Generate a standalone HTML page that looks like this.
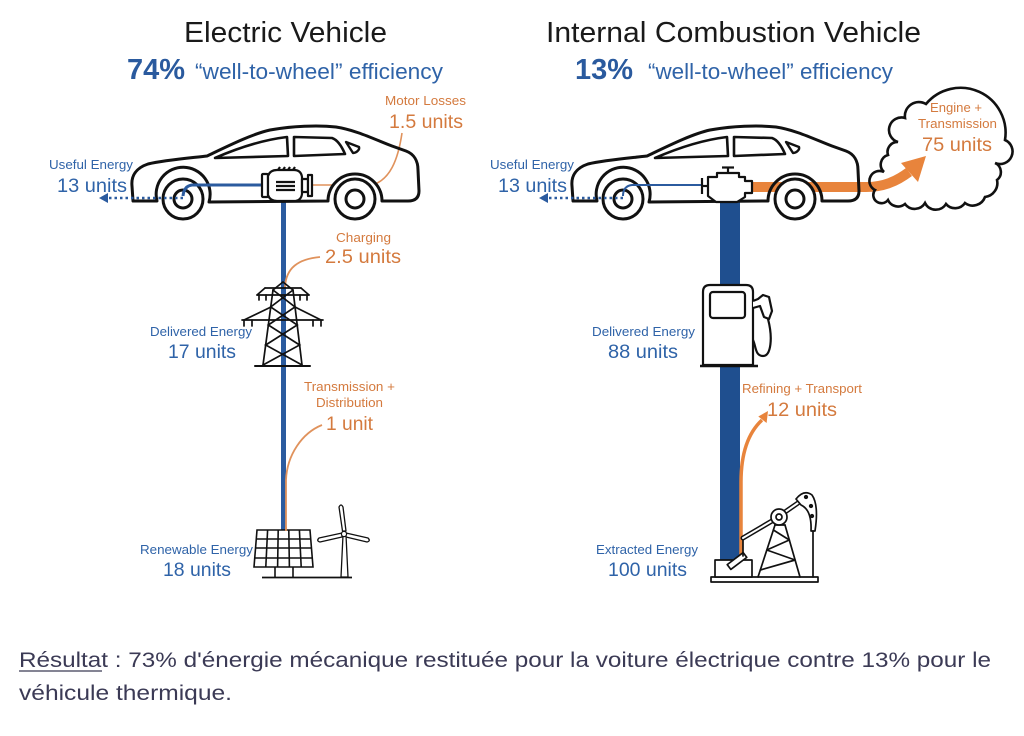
<!DOCTYPE html>
<html><head><meta charset="utf-8"><style>
html,body{margin:0;padding:0;background:#fff;}
svg{display:block;}
text{font-family:"Liberation Sans",Arial,sans-serif;}
</style></head><body>
<svg width="1024" height="736" viewBox="0 0 1024 736" xmlns="http://www.w3.org/2000/svg">
<rect width="1024" height="736" fill="#fff"/>

<!-- Titles -->
<text x="184" y="42" font-size="29" fill="#1a1a1a" textLength="203" lengthAdjust="spacingAndGlyphs">Electric Vehicle</text>
<text x="546" y="42" font-size="29" fill="#1a1a1a" textLength="375" lengthAdjust="spacingAndGlyphs">Internal Combustion Vehicle</text>
<text x="127" y="79" font-size="29" font-weight="bold" fill="#2a5a9e" textLength="58" lengthAdjust="spacingAndGlyphs">74%</text>
<text x="195" y="79" font-size="22.5" fill="#2f63a8" textLength="248" lengthAdjust="spacingAndGlyphs">“well-to-wheel” efficiency</text>
<text x="575" y="79" font-size="29" font-weight="bold" fill="#2a5a9e" textLength="58" lengthAdjust="spacingAndGlyphs">13%</text>
<text x="648" y="79" font-size="22.5" fill="#2f63a8" textLength="245" lengthAdjust="spacingAndGlyphs">“well-to-wheel” efficiency</text>

<!-- ============ LEFT: ELECTRIC ============ -->
<line x1="283.5" y1="200" x2="283.5" y2="531" stroke="#2b5b9f" stroke-width="5"/>
<path d="M312,185 L372,185 C390,180 398,160 402,133" fill="none" stroke="#e0925c" stroke-width="1.6"/>
<path d="M285,287 C286,268 298,259 320,257" fill="none" stroke="#e0925c" stroke-width="1.8"/>
<path d="M286,530 L286,480 C287,455 302,433 322,425" fill="none" stroke="#e0925c" stroke-width="1.8"/>

<g fill="none" stroke="#111" stroke-width="3" stroke-linejoin="round" stroke-linecap="round">
  <circle cx="183" cy="199" r="26" fill="#fff" stroke="none"/>
  <circle cx="355" cy="199" r="26" fill="#fff" stroke="none"/>
  <path d="M133,201 L132,186 C131,176 136,168 148,164 C165,160 190,158 207,156 C228,146 252,134 270,130 C292,126 318,125 336,127 C356,130 376,140 392,146 L406,151 C414,154 418,161 418,170 L419,191 C419,198 415,201 408,201 L382,201 A27,27 0 1 0 328,201 L209,202 A27,27 0 1 0 157,201 Z"/>
  <path d="M215,158 C238,148 262,140 287,137 L288,156 Z" stroke-width="2.6"/>
  <path d="M294,137 L332,138 C338,140 342,147 345,154 L294,156 Z" stroke-width="2.6"/>
  <path d="M346,142 L359,147 C360,150 356,153 353,153 Z" stroke-width="2.4"/>
  <circle cx="183" cy="199" r="20" fill="#fff"/>
  <circle cx="183" cy="199" r="9"/>
  <circle cx="355" cy="199" r="20" fill="#fff"/>
  <circle cx="355" cy="199" r="9"/>
</g>

<path d="M262,185 L192,185 Q184,186 183,196" fill="none" stroke="#2b5b9f" stroke-width="3"/>
<line x1="183" y1="198" x2="107" y2="198" stroke="#2b5b9f" stroke-width="2.6" stroke-dasharray="2.5 3"/>
<polygon points="99,198 108,193 108,203" fill="#2b5b9f"/>

<g fill="#fff" stroke="#111" stroke-width="2.2" stroke-linejoin="round">
  <rect x="262" y="174" width="6" height="23" rx="1"/>
  <path d="M268,176 Q270,170 277,170 L294,170 Q301,170 302,177 L302,194 Q301,201 294,201 L277,201 Q270,201 268,195 Z"/>
  <rect x="302" y="179" width="6" height="13"/>
  <rect x="308" y="175" width="4" height="21"/>
  <line x1="276" y1="182" x2="295" y2="182"/>
  <line x1="276" y1="186" x2="295" y2="186"/>
  <line x1="276" y1="190" x2="295" y2="190"/>
  <path d="M278,170 l2,-3 M283,170 l2,-3 M288,170 l2,-3 M293,170 l2,-3" fill="none"/>
</g>

<g fill="none" stroke="#111" stroke-width="1.7" stroke-linecap="round">
  <line x1="273" y1="290" x2="263" y2="365"/>
  <line x1="293" y1="290" x2="302" y2="365"/>
  <polyline points="273,290 295,307 268.3,325 299.6,345 263,365"/>
  <polyline points="293,290 270.7,307 297.2,325 265.7,345 302,365"/>
  <line x1="273" y1="290" x2="283" y2="282"/>
  <line x1="293" y1="290" x2="283" y2="282"/>
  <line x1="265" y1="288" x2="301" y2="288"/>
  <line x1="257" y1="295" x2="309" y2="295"/>
  <line x1="257" y1="295" x2="265" y2="288"/>
  <line x1="309" y1="295" x2="301" y2="288"/>
  <path d="M259,295 v5 M266,295 v5 M300,295 v5 M307,295 v5"/>
  <line x1="242" y1="320" x2="323" y2="320"/>
  <line x1="244" y1="320" x2="271" y2="307"/>
  <line x1="321" y1="320" x2="295" y2="307"/>
  <path d="M244,320 v6 M252,320 v6 M313,320 v6 M321,320 v6"/>
  <line x1="255" y1="366" x2="310" y2="366" stroke-width="2"/>
</g>

<g fill="none" stroke="#111" stroke-width="1.6">
  <polygon points="257,530 310,530 313,567 254,567" fill="#fff"/>
  <line x1="267.6" y1="530" x2="265.8" y2="567"/>
  <line x1="278.2" y1="530" x2="277.6" y2="567"/>
  <line x1="288.8" y1="530" x2="289.4" y2="567"/>
  <line x1="299.4" y1="530" x2="301.2" y2="567"/>
  <line x1="256.3" y1="539" x2="310.7" y2="539"/>
  <line x1="255.6" y1="548" x2="311.4" y2="548"/>
  <line x1="254.8" y1="558" x2="312.2" y2="558"/>
  <line x1="275" y1="567" x2="275" y2="577"/>
  <line x1="293" y1="567" x2="293" y2="577"/>
  <line x1="262" y1="577.5" x2="352" y2="577.5" stroke-width="1.8"/>
</g>
<line x1="286" y1="527" x2="286" y2="531" stroke="#e0925c" stroke-width="1.8"/>
<g fill="#fff" stroke="#111" stroke-width="1.3" stroke-linejoin="round">
  <polygon points="343,535 346,535 348,577 341,577"/>
  <path d="M342.5,531 L339,507 Q341,503 343,507 L346,531 Z"/>
  <path d="M342,533 L319,538 Q316,541 320,542 L342,537 Z"/>
  <path d="M346,533 L368,538 Q371,541 367,542 L346,537 Z"/>
  <circle cx="344" cy="534" r="2.6"/>
</g>

<g font-size="13" fill="#d47a3e">
  <text x="385" y="105" textLength="81" lengthAdjust="spacingAndGlyphs">Motor Losses</text>
  <text x="336" y="242" textLength="55" lengthAdjust="spacingAndGlyphs">Charging</text>
  <text x="304" y="391" textLength="91" lengthAdjust="spacingAndGlyphs">Transmission +</text>
  <text x="316" y="407" textLength="67" lengthAdjust="spacingAndGlyphs">Distribution</text>
</g>
<g font-size="19.5" fill="#d47a3e">
  <text x="389" y="128" textLength="74" lengthAdjust="spacingAndGlyphs">1.5 units</text>
  <text x="325" y="263" textLength="76" lengthAdjust="spacingAndGlyphs">2.5 units</text>
  <text x="326" y="430" textLength="47" lengthAdjust="spacingAndGlyphs">1 unit</text>
</g>
<g font-size="13" fill="#2f63a8">
  <text x="49" y="169" textLength="84" lengthAdjust="spacingAndGlyphs">Useful Energy</text>
  <text x="150" y="336" textLength="102" lengthAdjust="spacingAndGlyphs">Delivered Energy</text>
  <text x="140" y="554" textLength="113" lengthAdjust="spacingAndGlyphs">Renewable Energy</text>
</g>
<g font-size="19.5" fill="#2f63a8">
  <text x="57" y="192" textLength="70" lengthAdjust="spacingAndGlyphs">13 units</text>
  <text x="168" y="358" textLength="68" lengthAdjust="spacingAndGlyphs">17 units</text>
  <text x="163" y="576" textLength="68" lengthAdjust="spacingAndGlyphs">18 units</text>
</g>

<!-- ============ RIGHT: COMBUSTION ============ -->
<rect x="720" y="200" width="20" height="360" fill="#1f4f8f"/>
<path d="M875,190 A9,9 0 0 1 884,172 A10,10 0 0 1 888,155 A10,10 0 0 1 898,142 A12,12 0 0 1 905,118 A14,14 0 0 1 926,104 A45,45 0 0 1 1005,140 A12,12 0 0 1 995,163 A10,10 0 0 1 997,180 A14,14 0 0 1 985,197 A13,13 0 0 1 965,203 A12,12 0 0 1 946,204 A12,12 0 0 1 925,203 A12,12 0 0 1 905,204 A11,11 0 0 1 888,200 A8,8 0 0 1 875,190 Z" fill="#fff" stroke="none"/>
<path d="M752,187 L866,187 C884,187 897,181 909,172" fill="none" stroke="#e8843c" stroke-width="10"/>
<polygon points="901,163 926,156 918,182" fill="#e8843c"/>
<path d="M875,190 A9,9 0 0 1 884,172 A10,10 0 0 1 888,155 A10,10 0 0 1 898,142 A12,12 0 0 1 905,118 A14,14 0 0 1 926,104 A45,45 0 0 1 1005,140 A12,12 0 0 1 995,163 A10,10 0 0 1 997,180 A14,14 0 0 1 985,197 A13,13 0 0 1 965,203 A12,12 0 0 1 946,204 A12,12 0 0 1 925,203 A12,12 0 0 1 905,204 A11,11 0 0 1 888,200 A8,8 0 0 1 875,190 Z" fill="none" stroke="#111" stroke-width="2.6"/>

<g transform="translate(440,0)" fill="none" stroke="#111" stroke-width="3" stroke-linejoin="round" stroke-linecap="round">
  <path d="M133,201 L132,186 C131,176 136,168 148,164 C165,160 190,158 207,156 C228,146 252,134 270,130 C292,126 318,125 336,127 C356,130 376,140 392,146 L406,151 C414,154 418,161 418,170 L419,191 C419,198 415,201 408,201 L382,201 A27,27 0 1 0 328,201 L209,202 A27,27 0 1 0 157,201 Z"/>
  <path d="M215,158 C238,148 262,140 287,137 L288,156 Z" stroke-width="2.6"/>
  <path d="M294,137 L332,138 C338,140 342,147 345,154 L294,156 Z" stroke-width="2.6"/>
  <path d="M346,142 L359,147 C360,150 356,153 353,153 Z" stroke-width="2.4"/>
  <circle cx="183" cy="199" r="20" fill="#fff"/>
  <circle cx="183" cy="199" r="9"/>
  <circle cx="355" cy="199" r="20" fill="#fff"/>
  <circle cx="355" cy="199" r="9"/>
</g>

<path d="M702,185 L632,185 Q623,186 623,196" fill="none" stroke="#2b5b9f" stroke-width="2"/>
<line x1="623" y1="198" x2="547" y2="198" stroke="#2b5b9f" stroke-width="2.6" stroke-dasharray="2.5 3"/>
<polygon points="539,198 548,193 548,203" fill="#2b5b9f"/>

<g fill="#fff" stroke="#111" stroke-width="2.2" stroke-linejoin="round">
  <line x1="702" y1="178" x2="702" y2="194"/>
  <line x1="702" y1="186" x2="708" y2="186"/>
  <path d="M708,177 L717,177 L717,173 L739,173 L739,177 L745,177 L745,181 L752,181 L752,193 L745,193 L745,197 L737,202 L716,202 L708,196 Z"/>
  <line x1="728" y1="173" x2="728" y2="168"/>
  <line x1="722" y1="167.5" x2="734" y2="167.5"/>
</g>

<g fill="#fff" stroke="#111" stroke-width="2.2" stroke-linejoin="round">
  <path d="M703,365 L703,292 Q703,285 710,285 L746,285 Q753,285 753,292 L753,365 Z"/>
  <rect x="710" y="292" width="35" height="26" rx="3"/>
  <line x1="700" y1="366" x2="758" y2="366" stroke-width="2.5"/>
  <path d="M753,301 L758,299 L763,295 L769,297 L772,311 L769,319 L764,317 L760,306 L753,308" />
  <path d="M768,319 C773,338 771,356 763,356 C755,356 756,346 753,340" fill="none"/>
</g>

<path d="M741,556 L741,482 C741,452 749,432 762,420" fill="none" stroke="#e8843c" stroke-width="3.5"/>
<polygon points="768,411 758.3,416.5 766.6,423" fill="#e8843c"/>

<g fill="#fff" stroke="#111" stroke-width="1.7" stroke-linejoin="round" stroke-linecap="round">
  <rect x="711" y="577" width="107" height="5"/>
  <rect x="715" y="560" width="37" height="17"/>
  <rect x="-10" y="-3" width="20" height="6" transform="translate(737,561) rotate(-37)"/>
  <line x1="743" y1="538" x2="743" y2="556"/>
  <line x1="743" y1="538" x2="777" y2="518" stroke-width="5"/>
  <line x1="743" y1="538" x2="777" y2="518" stroke="#fff" stroke-width="2"/>
  <line x1="758" y1="577" x2="775" y2="525"/>
  <line x1="800" y1="577" x2="785" y2="525"/>
  <line x1="775" y1="525" x2="785" y2="525"/>
  <polyline points="760.3,570 795.1,560 766.8,550 789.3,540 773.4,530" fill="none"/>
  <line x1="785" y1="512" x2="798" y2="503" stroke-width="5"/>
  <line x1="785" y1="512" x2="798" y2="503" stroke="#fff" stroke-width="2"/>
  <path d="M796,499 Q804,489 812,495 Q819,505 815,531 L811,531 Q812,510 801,505 Z"/>
  <circle cx="806" cy="497" r="1.3" fill="#111"/>
  <circle cx="811" cy="506" r="1.3" fill="#111"/>
  <circle cx="812" cy="516" r="1.3" fill="#111"/>
  <line x1="813" y1="531" x2="813" y2="577"/>
  <circle cx="779" cy="517" r="8"/>
  <circle cx="779" cy="517" r="3"/>
</g>

<g font-size="13" fill="#d47a3e">
  <text x="930" y="112" textLength="52" lengthAdjust="spacingAndGlyphs">Engine +</text>
  <text x="918" y="128" textLength="79" lengthAdjust="spacingAndGlyphs">Transmission</text>
  <text x="742" y="393" textLength="120" lengthAdjust="spacingAndGlyphs">Refining + Transport</text>
</g>
<g font-size="19.5" fill="#d47a3e">
  <text x="922" y="151" textLength="70" lengthAdjust="spacingAndGlyphs">75 units</text>
  <text x="767" y="416" textLength="70" lengthAdjust="spacingAndGlyphs">12 units</text>
</g>
<g font-size="13" fill="#2f63a8">
  <text x="490" y="169" textLength="84" lengthAdjust="spacingAndGlyphs">Useful Energy</text>
  <text x="592" y="336" textLength="103" lengthAdjust="spacingAndGlyphs">Delivered Energy</text>
  <text x="596" y="554" textLength="102" lengthAdjust="spacingAndGlyphs">Extracted Energy</text>
</g>
<g font-size="19.5" fill="#2f63a8">
  <text x="498" y="192" textLength="69" lengthAdjust="spacingAndGlyphs">13 units</text>
  <text x="608" y="358" textLength="70" lengthAdjust="spacingAndGlyphs">88 units</text>
  <text x="608" y="576" textLength="79" lengthAdjust="spacingAndGlyphs">100 units</text>
</g>

<text x="19" y="667" font-size="21" fill="#3b3a55" textLength="972" lengthAdjust="spacingAndGlyphs">Résultat : 73% d'énergie mécanique restituée pour la voiture électrique contre 13% pour le</text>
<line x1="19" y1="671" x2="102" y2="671" stroke="#3b3a55" stroke-width="1.3"/>
<text x="19" y="700" font-size="21" fill="#3b3a55" textLength="213" lengthAdjust="spacingAndGlyphs">véhicule thermique.</text>
</svg>
</body></html>
